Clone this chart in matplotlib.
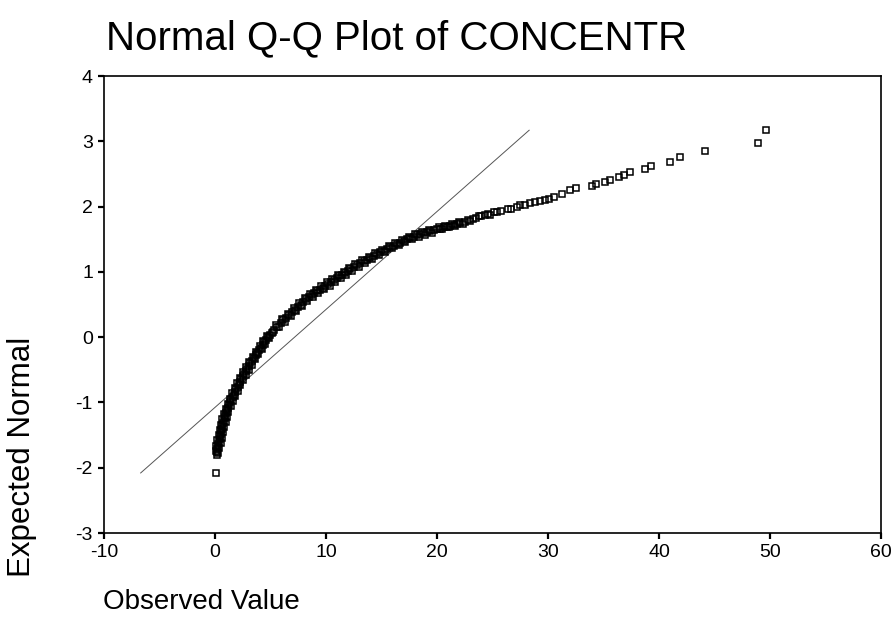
import matplotlib
matplotlib.use("Agg")
import matplotlib.pyplot as plt

plt.rcParams['font.family'] = ['Liberation Sans', 'DejaVu Sans']
plt.rcParams['axes.unicode_minus'] = False

observed = [
	0.06,
	# steep lower part of the band
	0.14, 0.19, 0.22, 0.28, 0.31, 0.38, 0.41, 0.47, 0.51, 0.56, 0.64, 0.67,
	0.75, 0.79, 0.87, 0.91, 0.99, 1.06, 1.19, 1.27, 1.39, 1.46, 1.58, 1.68,
	1.81, 1.91, 2.04, 2.14, 2.27, 2.37, 2.52, 2.63, 2.78, 2.89, 3.04, 3.17,
	3.35, 3.48, 3.66, 3.79, 3.97, 4.11, 4.28, 4.42, 4.59, 4.73, 4.92, 5.18,
	0.30, 0.05, 0.40, 0.12, 0.50, 0.22, 0.60, 0.32, 0.70, 0.42, 0.82, 0.53,
	0.95, 0.65, 1.07, 0.77, 1.21, 0.95, 1.41, 1.15, 1.60, 1.34, 1.81, 1.56,
	2.04, 1.79, 2.27, 2.02, 2.50, 2.26, 2.76, 2.52, 3.02, 2.78, 3.30, 3.08,
	3.60, 3.39, 3.91, 3.70, 4.22, 4.02, 4.53, 4.32, 4.84, 4.64, 5.15,
	# middle part
	5.35, 5.6, 5.9, 6.15, 6.4, 6.7, 6.95, 7.2, 7.45, 7.7, 7.95, 8.2,
	8.45, 8.7, 8.95, 9.2, 9.45, 9.7, 9.95, 10.2, 10.45, 10.7, 10.95, 11.2,
	11.45, 11.7, 11.95, 12.2, 12.5, 12.8, 13.1, 13.4, 13.7, 14.0, 14.3, 14.6,
	14.9, 15.2, 15.5, 15.8, 16.1, 16.4, 16.7, 17.0, 17.3, 17.6, 17.9, 18.2,
	18.5, 18.8, 19.1, 19.4, 19.7,
	5.48, 5.75, 6.02, 6.28, 6.55, 6.82, 7.08, 7.32, 7.58, 7.82, 8.08, 8.32,
	8.58, 8.82, 9.08, 9.32, 9.58, 9.82, 10.08, 10.32, 10.58, 10.82, 11.08, 11.32,
	11.58, 11.82, 12.08, 12.35, 12.65, 12.95, 13.25, 13.55, 13.85, 14.15, 14.45, 14.75,
	15.05, 15.35, 15.65, 15.95, 16.25, 16.55, 16.85, 17.15, 17.45, 17.75, 18.05, 18.35,
	18.65, 18.95, 19.25, 19.55,
	# upper tail
	20.0, 20.3, 20.6, 20.9, 21.2, 21.5, 21.8, 22.1, 22.5, 22.8, 23.2, 23.5,
	24.0, 24.3, 24.6, 25.1, 25.4, 25.8, 26.4, 26.7, 27.2, 27.5, 27.9, 28.4,
	28.8, 29.3, 29.7, 30.1, 30.5, 31.3, 32.0, 32.5,
	20.15, 20.45, 20.75, 21.05, 21.35, 21.65, 21.95, 22.3, 23.0, 23.8, 24.8,
	34.0, 34.3, 35.1, 35.6, 36.4, 36.85, 37.4, 38.7, 39.3, 41.0, 41.9, 44.1,
	48.9, 49.6,
]
expected = [
	-2.08,
	-1.80, -1.76, -1.72, -1.68, -1.64, -1.60, -1.56, -1.52, -1.48, -1.44, -1.40, -1.36,
	-1.32, -1.28, -1.24, -1.20, -1.16, -1.12, -1.08, -1.04, -1.00, -0.96, -0.92, -0.88,
	-0.84, -0.80, -0.76, -0.72, -0.68, -0.64, -0.60, -0.56, -0.52, -0.48, -0.44, -0.40,
	-0.36, -0.32, -0.28, -0.24, -0.20, -0.16, -0.12, -0.08, -0.04, 0.00, 0.04, 0.08,
	-1.78, -1.74, -1.70, -1.66, -1.62, -1.58, -1.54, -1.50, -1.46, -1.42, -1.38, -1.34,
	-1.30, -1.26, -1.22, -1.18, -1.14, -1.10, -1.06, -1.02, -0.98, -0.94, -0.90, -0.86,
	-0.82, -0.78, -0.74, -0.70, -0.66, -0.62, -0.58, -0.54, -0.50, -0.46, -0.42, -0.38,
	-0.34, -0.30, -0.26, -0.22, -0.18, -0.14, -0.10, -0.06, -0.02, 0.02, 0.06,
	0.11, 0.16, 0.22, 0.26, 0.30, 0.34, 0.38, 0.42, 0.46, 0.50, 0.54, 0.58,
	0.61, 0.64, 0.67, 0.70, 0.73, 0.76, 0.79, 0.82, 0.84, 0.87, 0.90, 0.93,
	0.95, 0.98, 1.01, 1.04, 1.07, 1.10, 1.13, 1.16, 1.18, 1.21, 1.24, 1.27,
	1.30, 1.32, 1.35, 1.38, 1.40, 1.43, 1.45, 1.47, 1.50, 1.52, 1.54, 1.56,
	1.58, 1.59, 1.61, 1.62, 1.64,
	0.18, 0.15, 0.28, 0.24, 0.36, 0.32, 0.44, 0.40, 0.52, 0.48, 0.60, 0.555,
	0.665, 0.615, 0.725, 0.675, 0.785, 0.735, 0.845, 0.79, 0.895, 0.845, 0.955, 0.90,
	1.005, 0.955, 1.065, 1.015, 1.12, 1.08, 1.175, 1.14, 1.225, 1.195, 1.285, 1.255,
	1.34, 1.305, 1.395, 1.36, 1.445, 1.41, 1.49, 1.455, 1.54, 1.50, 1.58, 1.54,
	1.615, 1.57, 1.645, 1.60,
	1.65, 1.66, 1.68, 1.69, 1.71, 1.72, 1.74, 1.75, 1.77, 1.79, 1.81, 1.82,
	1.85, 1.87, 1.88, 1.91, 1.92, 1.93, 1.96, 1.97, 2.00, 2.02, 2.03, 2.05,
	2.07, 2.09, 2.10, 2.12, 2.15, 2.20, 2.26, 2.29,
	1.68, 1.65, 1.70, 1.68, 1.73, 1.71, 1.76, 1.74, 1.78, 1.86, 1.87,
	2.32, 2.34, 2.38, 2.40, 2.45, 2.49, 2.53, 2.57, 2.62, 2.68, 2.76, 2.85,
	2.98, 3.17,
]

# Reference line (expected normal line)
line_x = [-6.7, 28.3]
line_y = [-2.08, 3.17]

x_ticks = [-10, 0, 10, 20, 30, 40, 50, 60]
y_ticks = [-3, -2, -1, 0, 1, 2, 3, 4]

fig = plt.figure(figsize=(8.93, 6.32), dpi=100)
ax = fig.add_axes([0.1165, 0.1566, 0.8701, 0.7231])

ax.plot(line_x, line_y, color="#555555", lw=0.7)
# hollow squares, unfilled so overlapping points build up a dark band
ax.plot(observed, expected, ls="none", marker="s", ms=4.3,
	mfc="none", mec="black", mew=1.1)

ax.set_xlim(-10, 60)
ax.set_ylim(-3, 4)
ax.set_xticks(x_ticks)
ax.set_yticks(y_ticks)
ax.tick_params(direction="out", length=4, width=1.6, labelsize=14, pad=4)
for s in ax.spines.values():
	s.set_linewidth(1.2)

fig.text(0.119, 0.922, "Normal Q-Q Plot of CONCENTR", fontsize=29, va="baseline", ha="left")
fig.text(0.115, 0.047, "Observed Value", fontsize=20, va="center", ha="left")
fig.text(0.025, 0.087, "Expected Normal", fontsize=22.5, rotation=90, va="bottom", ha="center")

fig.savefig("out.png", dpi=100)
